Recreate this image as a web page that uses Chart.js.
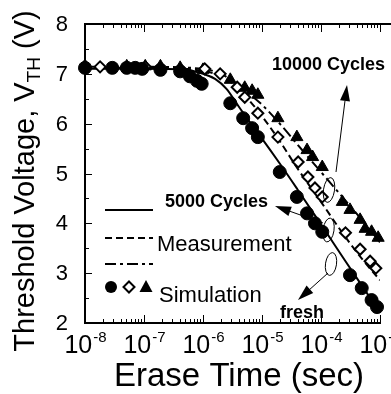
<!DOCTYPE html>
<html>
<head>
<meta charset="utf-8">
<script src="https://cdn.jsdelivr.net/npm/chart.js@4.4.0/dist/chart.umd.min.js"></script>
<style>
  html, body { margin: 0; padding: 0; background: #fff; }
</style>
</head>
<body>
<canvas id="vthChart" width="391" height="394"></canvas>
<script>
// axis ranges / ticks
const xMin = 1e-8, xMax = 1e-3;
const yMin = 2, yMax = 8;
const xTickPowers = [-8, -7, -6, -5, -4, -3];
const yTickValues = [2, 3, 4, 5, 6, 7, 8];

// Simulation (markers) - erase time in sec, VTH in V
const freshSimTime = [1.0e-8, 2.9e-8, 5.1e-8, 7.1e-8, 9.3e-8, 1.9e-7, 4.1e-7, 6.0e-7, 7.9e-7, 9.5e-7, 2.9e-6, 4.8e-6, 6.8e-6, 8.5e-6, 2.0e-5, 3.9e-5, 5.8e-5, 7.9e-5, 1.05e-4, 3.1e-4, 4.9e-4, 7.2e-4, 8.9e-4];
const freshSimVth  = [7.12, 7.12, 7.12, 7.12, 7.10, 7.08, 7.05, 6.95, 6.86, 6.80, 6.41, 6.11, 5.91, 5.73, 5.03, 4.53, 4.20, 4.00, 3.83, 2.96, 2.70, 2.46, 2.32];

const c5kSimTime = [1.8e-8, 1.05e-7, 1.07e-6, 1.95e-6, 3.8e-6, 5.1e-6, 8.5e-6, 1.86e-5, 4.1e-5, 6.0e-5, 7.9e-5, 1.05e-4, 2.6e-4, 4.6e-4, 6.8e-4, 8.5e-4];
const c5kSimVth  = [7.14, 7.14, 7.10, 7.00, 6.73, 6.53, 6.21, 5.73, 5.23, 4.93, 4.71, 4.53, 3.81, 3.48, 3.24, 3.10];

const c10kSimTime = [1.0e-8, 5.1e-8, 1.05e-7, 1.9e-7, 4.1e-7, 1.0e-6, 2.9e-6, 5.1e-6, 6.8e-6, 8.5e-6, 1.86e-5, 3.9e-5, 5.8e-5, 7.2e-5, 1.05e-4, 2.3e-4, 3.1e-4, 4.6e-4, 5.6e-4, 7.2e-4, 9.3e-4];
const c10kSimVth  = [7.16, 7.15, 7.15, 7.15, 7.12, 7.08, 6.88, 6.72, 6.66, 6.58, 6.11, 5.73, 5.47, 5.33, 5.13, 4.43, 4.27, 4.07, 3.89, 3.83, 3.71];

// Measurement (lines)
const freshMeasTime = [1e-8, 1e-7, 5e-7, 1e-6, 1.6e-6, 2.5e-6, 4e-6, 6.3e-6, 1e-5, 2e-5, 4e-5, 1e-4, 2.5e-4, 5e-4, 1e-3];
const freshMeasVth  = [7.10, 7.10, 7.08, 7.00, 6.90, 6.70, 6.35, 6.02, 5.70, 5.20, 4.68, 3.98, 3.27, 2.74, 2.21];

const c5kMeasTime = [1e-8, 1e-7, 1e-6, 2e-6, 3.2e-6, 5e-6, 1e-5, 2e-5, 4e-5, 1e-4, 2.5e-4, 5e-4, 1e-3];
const c5kMeasVth  = [7.12, 7.12, 7.06, 6.95, 6.80, 6.58, 6.15, 5.65, 5.10, 4.43, 3.75, 3.28, 2.86];

const c10kMeasTime = [1e-8, 1e-7, 1e-6, 2e-6, 3.2e-6, 5e-6, 1e-5, 2e-5, 4e-5, 1e-4, 2.5e-4, 5e-4, 1e-3];
const c10kMeasVth  = [7.14, 7.14, 7.10, 7.00, 6.86, 6.68, 6.38, 6.00, 5.58, 5.03, 4.48, 4.06, 3.62];

const FONT = '"Liberation Sans", Arial, Helvetica, sans-serif';
const DASH = [7, 4];
const DASH_DOT = [11, 4, 3, 4];

function pts(xs, ys) {
  return xs.map((x, i) => ({ x: x, y: ys[i] }));
}

function simSet(label, xs, ys, style, radius, fill) {
  return {
    label: label,
    data: pts(xs, ys),
    showLine: false,
    pointStyle: style,
    pointRadius: radius,
    pointBackgroundColor: fill,
    pointBorderColor: '#000',
    pointBorderWidth: fill === '#fff' ? 2 : 1,
    clip: false
  };
}

function measSet(label, xs, ys, dash) {
  return {
    label: label,
    data: pts(xs, ys),
    showLine: true,
    pointRadius: 0,
    borderColor: '#000',
    borderWidth: 2,
    borderDash: dash,
    cubicInterpolationMode: 'monotone'
  };
}

function arrow(ctx, x1, y1, x2, y2) {
  const ang = Math.atan2(y2 - y1, x2 - x1);
  const hl = 16, hw = 5;
  const bx = x2 - hl * Math.cos(ang), by = y2 - hl * Math.sin(ang);
  ctx.beginPath();
  ctx.moveTo(x1, y1);
  ctx.lineTo(bx, by);
  ctx.stroke();
  ctx.beginPath();
  ctx.moveTo(x2, y2);
  ctx.lineTo(bx + hw * Math.sin(ang), by - hw * Math.cos(ang));
  ctx.lineTo(bx - hw * Math.sin(ang), by + hw * Math.cos(ang));
  ctx.closePath();
  ctx.fill();
}

function ellipse(ctx, cx, cy, rx, ry, rot) {
  ctx.beginPath();
  ctx.ellipse(cx, cy, rx, ry, rot, 0, Math.PI * 2);
  ctx.stroke();
}

// ticks, labels, legend and notes drawn on top of the chart
const decor = {
  id: 'decor',
  afterDraw(chart) {
    const ctx = chart.ctx;
    const xs = chart.scales.x, ys = chart.scales.y;
    const a = chart.chartArea;
    ctx.save();
    ctx.strokeStyle = '#000';
    ctx.fillStyle = '#000';

    // top frame line
    ctx.lineWidth = 2;
    ctx.beginPath();
    ctx.moveTo(a.left, a.top);
    ctx.lineTo(391, a.top);
    ctx.stroke();

    // inward ticks
    ctx.lineWidth = 1;
    ctx.beginPath();
    xTickPowers.forEach(p => {
      for (let m = 1; m <= 9; m++) {
        const v = m * Math.pow(10, p);
        if (v > xMax * 1.001) break;
        const px = Math.round(xs.getPixelForValue(v)) + 0.5;
        const len = m === 1 ? 8 : 4;
        ctx.moveTo(px, a.bottom);
        ctx.lineTo(px, a.bottom - len);
        ctx.moveTo(px, a.top);
        ctx.lineTo(px, a.top + len);
      }
    });
    for (let v = yMin; v <= yMax; v += 0.5) {
      const py = Math.round(ys.getPixelForValue(v)) + 0.5;
      const len = Number.isInteger(v) ? 7 : 4;
      ctx.moveTo(a.left, py);
      ctx.lineTo(a.left + len, py);
    }
    ctx.stroke();

    // y tick labels
    ctx.font = '22px ' + FONT;
    ctx.textAlign = 'right';
    ctx.textBaseline = 'middle';
    yTickValues.forEach(v => {
      ctx.fillText(String(v), 68, ys.getPixelForValue(v) + 1);
    });

    // x tick labels 10^p
    ctx.textAlign = 'left';
    ctx.textBaseline = 'alphabetic';
    xTickPowers.forEach(p => {
      const px = xs.getPixelForValue(Math.pow(10, p));
      ctx.font = '25px ' + FONT;
      const wBase = ctx.measureText('10').width;
      ctx.font = '15px ' + FONT;
      const sup = String(p);
      const wSup = ctx.measureText(sup).width;
      const x0 = px - (wBase + wSup) / 2;
      ctx.font = '25px ' + FONT;
      ctx.fillText('10', x0, 353);
      ctx.font = '15px ' + FONT;
      ctx.fillText(sup, x0 + wBase + 1, 342);
    });

    // x title
    ctx.font = '33px ' + FONT;
    ctx.textAlign = 'center';
    ctx.fillText('Erase Time (sec)', 239, 386);

    // y title (rotated, with subscript)
    ctx.save();
    ctx.translate(34, 181);
    ctx.rotate(-Math.PI / 2);
    ctx.textAlign = 'left';
    const big = '29px ' + FONT, small = '19px ' + FONT;
    ctx.font = big;
    const w1 = ctx.measureText('Threshold Voltage, V').width;
    const w3 = ctx.measureText(' (V)').width;
    ctx.font = small;
    const w2 = ctx.measureText('TH').width;
    let sx = -(w1 + w2 + w3) / 2;
    ctx.font = big;
    ctx.fillText('Threshold Voltage, V', sx, 0);
    ctx.font = small;
    ctx.fillText('TH', sx + w1, 6);
    ctx.font = big;
    ctx.fillText(' (V)', sx + w1 + w2, 0);
    ctx.restore();

    // legend: lines = Measurement, markers = Simulation
    ctx.lineWidth = 2;
    [[210, []], [238, DASH], [264, DASH_DOT]].forEach(([y, d]) => {
      ctx.setLineDash(d);
      ctx.beginPath();
      ctx.moveTo(105, y);
      ctx.lineTo(153, y);
      ctx.stroke();
    });
    ctx.setLineDash([]);
    ctx.beginPath();
    ctx.arc(111, 287, 6, 0, Math.PI * 2);
    ctx.fill();
    ctx.beginPath();
    ctx.moveTo(129, 281.5); ctx.lineTo(134.5, 287); ctx.lineTo(129, 292.5); ctx.lineTo(123.5, 287);
    ctx.closePath();
    ctx.stroke();
    ctx.beginPath();
    ctx.moveTo(146, 280); ctx.lineTo(152.5, 292); ctx.lineTo(139.5, 292);
    ctx.closePath();
    ctx.fill();

    ctx.font = '22px ' + FONT;
    ctx.textAlign = 'left';
    ctx.fillText('Measurement', 157, 251);
    ctx.fillText('Simulation', 159, 302);

    // cycle notes
    ctx.font = 'bold 18px ' + FONT;
    ctx.fillText('10000 Cycles', 272, 70);
    ctx.fillText('5000 Cycles', 165, 207);
    ctx.fillText('fresh', 280, 318);

    ctx.lineWidth = 1;
    ellipse(ctx, 329, 190, 5.5, 12.5, 0.15);
    ellipse(ctx, 328.5, 230, 5.5, 12, 0.15);
    ellipse(ctx, 331, 264, 5.5, 11.5, 0.15);
    arrow(ctx, 336, 172, 347, 85);
    arrow(ctx, 323, 223, 275, 206);
    arrow(ctx, 328, 273, 298, 300);

    ctx.restore();
  }
};

new Chart(document.getElementById('vthChart'), {
  type: 'scatter',
  data: {
    datasets: [
      simSet('fresh (Simulation)', freshSimTime, freshSimVth, 'circle', 6.5, '#000'),
      simSet('5000 Cycles (Simulation)', c5kSimTime, c5kSimVth, 'rectRot', 5.5, '#fff'),
      simSet('10000 Cycles (Simulation)', c10kSimTime, c10kSimVth, 'triangle', 7, '#000'),
      measSet('fresh (Measurement)', freshMeasTime, freshMeasVth, []),
      measSet('5000 Cycles (Measurement)', c5kMeasTime, c5kMeasVth, DASH),
      measSet('10000 Cycles (Measurement)', c10kMeasTime, c10kMeasVth, DASH_DOT)
    ]
  },
  options: {
    responsive: false,
    animation: false,
    layout: { padding: { left: 85, right: 11, top: 24, bottom: 71 } },
    plugins: {
      legend: { display: false },
      tooltip: { enabled: false }
    },
    scales: {
      x: {
        type: 'logarithmic',
        min: xMin,
        max: xMax,
        ticks: { display: false },
        grid: { display: false, drawTicks: false },
        border: { display: true, color: '#000', width: 2 }
      },
      y: {
        min: yMin,
        max: yMax,
        ticks: { display: false },
        grid: { display: false, drawTicks: false },
        border: { display: true, color: '#000', width: 2 }
      }
    }
  },
  plugins: [decor]
});
</script>
</body>
</html>
